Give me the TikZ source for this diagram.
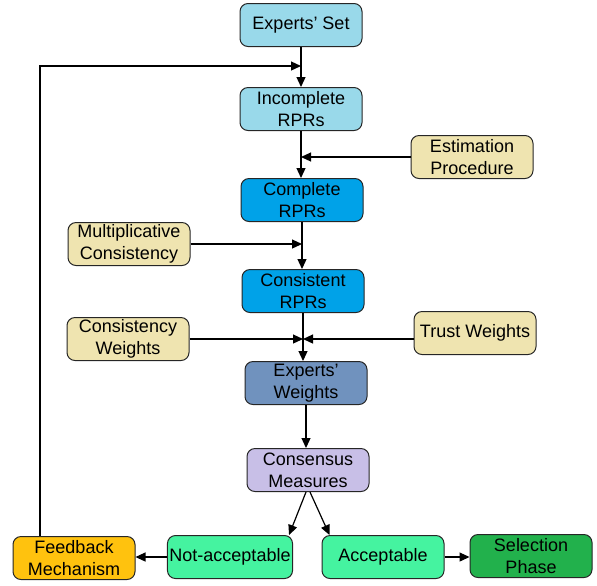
\documentclass[tikz,border=0pt]{standalone}
\usepackage{fontspec}
\setmainfont{Liberation Sans}
\usetikzlibrary{arrows.meta}
\definecolor{lightsky}{HTML}{99D9EA}
\definecolor{sky}{HTML}{00A2E8}
\definecolor{sand}{HTML}{EFE4B0}
\definecolor{steel}{HTML}{7092BE}
\definecolor{lavender}{HTML}{C8BFE7}
\definecolor{gold}{HTML}{FFC20E}
\definecolor{mint}{HTML}{45F3A0}
\definecolor{leaf}{HTML}{22B14C}
\tikzset{
	blk/.style={draw=black!85, line width=0.5pt, rounded corners=4pt, align=center,
		minimum width=61pt, minimum height=21.5pt, inner sep=1pt,
		font=\fontsize{9}{11}\selectfont},
	flow/.style={line width=0.6pt, -{Triangle[length=5pt,width=4.5pt]}}
}
\begin{document}
\begin{tikzpicture}[x=0.5pt, y=-0.5pt]
				\useasboundingbox (0,0) rectangle (597,585);
				\node[blk, fill=lightsky] (experts) at (301,25) {Experts' Set};
				\node[blk, fill=lightsky] (incomplete) at (301,109) {Incomplete\\RPRs};
				\node[blk, fill=sand] (estimation) at (472,157) {Estimation\\Procedure};
				\node[blk, fill=sky] (complete) at (302,200) {Complete\\RPRs};
				\node[blk, fill=sand] (multiplicative) at (129,244) {Multiplicative\\Consistency};
				\node[blk, fill=sky] (consistent) at (303,291) {Consistent\\RPRs};
				\node[blk, fill=sand] (consweights) at (128,339) {Consistency\\Weights};
				\node[blk, fill=sand] (trust) at (475,333) {Trust Weights};
				\node[blk, fill=steel] (expweights) at (306,383) {Experts'\\Weights};
				\node[blk, fill=lavender] (consensus) at (308,470) {Consensus\\Measures};
				\node[blk, fill=gold] (feedback) at (74,558) {Feedback\\Mechanism};
				\node[blk, fill=mint] (notacc) at (230,557) {Not-acceptable};
				\node[blk, fill=mint] (acc) at (383,557) {Acceptable};
				\node[blk, fill=leaf] (selection) at (531,556) {Selection\\Phase};
				% main column
				\draw[flow] (experts.south) -- (experts.south |- incomplete.north);
				\draw[flow] (incomplete.south) -- (incomplete.south |- complete.north);
				\draw[flow] (complete.south) -- (complete.south |- consistent.north);
				\draw[flow] (consistent.south) -- (consistent.south |- expweights.north);
				\draw[flow] (expweights.south) -- (expweights.south |- consensus.north);
				% side inputs
				\draw[flow] (estimation.west) -- (estimation.west -| incomplete.south);
				\draw[flow] (multiplicative.east) -- (multiplicative.east -| complete.south);
				\draw[flow] (consweights.east) -- (consweights.east -| consistent.south);
				\draw[flow] (trust.west |- consweights.east) -- (consweights.east -| consistent.south);
				% decision
				\draw[flow] ([xshift=-1pt]consensus.south) -- ([xshift=-2pt]notacc.north east);
				\draw[flow] ([xshift=1pt]consensus.south) -- ([xshift=4pt]acc.north west);
				\draw[flow] (notacc.west) -- (notacc.west -| feedback.east);
				\draw[flow] (acc.east) -- (acc.east -| selection.west);
				\draw[flow] ([xshift=-17pt]feedback.north) |- ([yshift=10.5pt]incomplete.north);
\end{tikzpicture}
\end{document}
